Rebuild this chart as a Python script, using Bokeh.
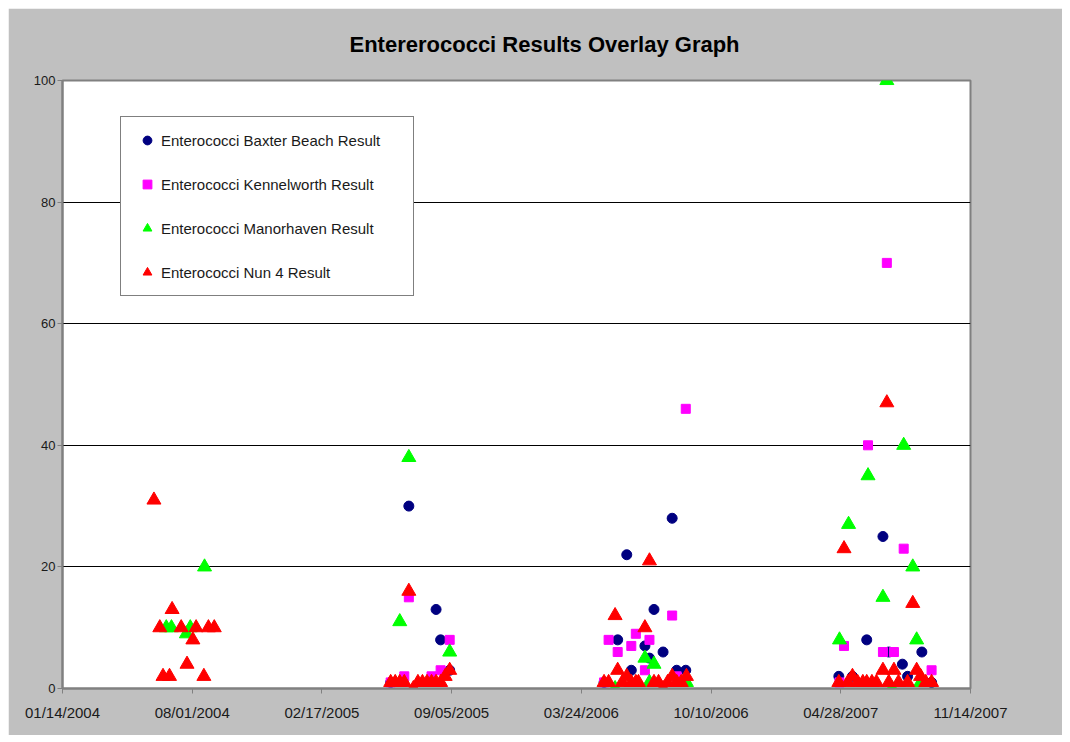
import pandas as pd
from bokeh.plotting import figure
from bokeh.models import (Range1d, FixedTicker, DatetimeTickFormatter, Legend,
                          LegendItem, ColumnDataSource)
from bokeh.embed import file_html
from bokeh.resources import INLINE

# --- axis ticks -------------------------------------------------------------
x_tick_dates = ["2004-01-14", "2004-08-01", "2005-02-17", "2005-09-05",
                "2006-03-24", "2006-10-10", "2007-04-28", "2007-11-14"]
y_tick_values = [0, 20, 40, 60, 80, 100]

# --- Enterococci Baxter Beach ------------------------------------------------
baxter_dates = ["2005-06-03", "2005-07-01", "2005-08-12", "2005-08-19", "2005-09-02",
                "2006-04-28", "2006-05-19", "2006-06-02", "2006-06-09", "2006-06-30",
                "2006-07-07", "2006-07-14", "2006-07-28", "2006-08-11", "2006-08-18",
                "2006-09-01",
                "2007-04-25", "2007-05-16", "2007-06-07", "2007-07-02", "2007-07-11",
                "2007-08-01", "2007-08-09", "2007-08-31", "2007-09-15"]
baxter_values = [1, 30, 13, 8, 3,
                 1, 8, 22, 3, 7, 5, 13, 6, 28, 3, 3,
                 2, 2, 8, 25, 6, 4, 2, 6, 1]

# --- Enterococci Kennelworth -------------------------------------------------
kennel_dates = ["2005-06-03", "2005-06-24", "2005-07-01", "2005-08-05", "2005-08-19",
                "2005-09-02",
                "2006-04-28", "2006-05-05", "2006-05-19", "2006-06-09", "2006-06-16",
                "2006-06-30", "2006-07-07", "2006-08-11", "2006-08-18", "2006-09-01",
                "2007-04-26", "2007-05-03", "2007-06-09", "2007-07-02", "2007-07-08",
                "2007-07-19", "2007-08-03", "2007-09-15"]
kennel_values = [1, 2, 15, 2, 3, 8,
                 1, 8, 6, 7, 9, 3, 8, 12, 2, 46,
                 1, 7, 40, 6, 70, 6, 23, 3]

# --- Enterococci Manorhaven --------------------------------------------------
manor_dates = ["2004-06-22", "2004-06-30", "2004-07-23", "2004-07-29", "2004-08-20",
               "2005-06-17", "2005-07-01", "2005-09-02",
               "2006-05-15", "2006-06-30", "2006-07-07", "2006-07-14", "2006-09-02",
               "2007-04-26", "2007-05-10", "2007-06-09", "2007-07-02", "2007-07-08",
               "2007-07-16", "2007-08-03", "2007-08-17", "2007-08-23", "2007-08-29"]
manor_values = [10, 10, 9, 10, 20,
                11, 38, 6,
                0, 5, 1, 4, 1,
                8, 27, 35, 15, 100, 0, 40, 20, 8, 1]

# --- Enterococci Nun 4 --------------------------------------------------------
nun4_dates = ["2004-06-03", "2004-06-12", "2004-06-17", "2004-06-27", "2004-07-01",
              "2004-07-15", "2004-07-24", "2004-08-02", "2004-08-07", "2004-08-19",
              "2004-08-26", "2004-09-04",
              "2005-06-03", "2005-06-10", "2005-06-17", "2005-06-24", "2005-07-01",
              "2005-07-08", "2005-07-15", "2005-07-22", "2005-07-29", "2005-08-05",
              "2005-08-12", "2005-08-19", "2005-08-26", "2005-09-02",
              "2006-04-28", "2006-05-05", "2006-05-15", "2006-05-19", "2006-05-26",
              "2006-06-02", "2006-06-09", "2006-06-16", "2006-06-20", "2006-06-30",
              "2006-07-07", "2006-07-14", "2006-07-21", "2006-07-28", "2006-08-04",
              "2006-08-11", "2006-08-18", "2006-08-25", "2006-09-02",
              "2007-04-25", "2007-05-03", "2007-05-09", "2007-05-16", "2007-05-24",
              "2007-06-01", "2007-06-07", "2007-06-15", "2007-06-22", "2007-07-02",
              "2007-07-08", "2007-07-11", "2007-07-19", "2007-07-26", "2007-08-09",
              "2007-08-17", "2007-08-23", "2007-08-29", "2007-09-06", "2007-09-15"]
nun4_values = [31, 10, 2, 2, 13, 10, 4, 8, 10, 2, 10, 10,
               1, 1, 1, 1, 16, 0, 1, 1, 1, 1, 1, 1, 2, 3,
               1, 1, 12, 3, 1, 2, 1, 1, 1, 10, 21, 1, 1, 0, 1, 2, 1, 1, 2,
               1, 23, 1, 2, 1, 1, 1, 1, 1, 3, 47, 1, 3, 1, 1, 14, 3, 2, 1, 1]

series = [
    ("Enterococci Baxter Beach Result", baxter_dates, baxter_values, "circle", 10, "#000080"),
    ("Enterococci Kennelworth Result", kennel_dates, kennel_values, "square", 9, "#ff00ff"),
    ("Enterococci Manorhaven Result", manor_dates, manor_values, "triangle", 14, "#00ff00"),
    ("Enterococci Nun 4 Result", nun4_dates, nun4_values, "triangle", 14, "#ff0000"),
]

FONT = "Liberation Sans"

p = figure(width=1054, height=727, margin=(8, 8, 7, 8),
           output_backend="svg", toolbar_location=None,
           x_axis_type="datetime",
           x_range=Range1d(pd.Timestamp(x_tick_dates[0]), pd.Timestamp(x_tick_dates[-1])),
           y_range=Range1d(0, 100),
           min_border_left=54, min_border_right=92,
           min_border_top=72, min_border_bottom=47,
           background_fill_color="white", border_fill_color="#c0c0c0",
           outline_line_color="#808080", outline_line_width=2)

p.title.text = "Entererococci Results Overlay Graph"
p.title.align = "left"
p.title.vertical_align = "middle"
p.title.text_font = FONT
p.title.text_font_size = "22px"
p.title.text_font_style = "bold"
p.title.text_color = "black"
p.title.offset = 287
p.title.standoff = 45

# x axis: fixed date ticks every 200 days
xa = p.xaxis[0]
xa.ticker = FixedTicker(ticks=[pd.Timestamp(d).value // 10**6 for d in x_tick_dates])
fmt = "%m/%d/%Y"
xa.formatter = DatetimeTickFormatter(milliseconds=fmt, seconds=fmt, minsec=fmt,
                                     minutes=fmt, hourmin=fmt, hours=fmt,
                                     days=fmt, months=fmt, years=fmt)
ya = p.yaxis[0]
ya.ticker = FixedTicker(ticks=y_tick_values)

for ax in (xa, ya):
    ax.axis_line_color = "#808080"
    ax.axis_line_width = 2
    ax.major_tick_line_color = "#808080"
    ax.major_tick_in = 0
    ax.major_tick_out = 5
    ax.minor_tick_line_color = None
    ax.major_label_text_font = FONT
    ax.major_label_text_color = "#1a1a1a"
xa.major_label_text_font_size = "15px"
xa.major_label_standoff = 10
ya.major_label_text_font_size = "13px"
ya.major_label_standoff = 2

p.xgrid.grid_line_color = None
p.ygrid.ticker = FixedTicker(ticks=[20, 40, 60, 80])
p.ygrid.grid_line_color = "black"
p.ygrid.grid_line_width = 1

items = []
for label, dates, values, marker, size, color in series:
    src = ColumnDataSource(dict(date=pd.to_datetime(dates), value=values))
    r = p.scatter(x="date", y="value", source=src, marker=marker, size=size,
                  fill_color=color, line_color=color)
    items.append(LegendItem(label=label, renderers=[r]))

legend = Legend(items=items, location=(58, 392), orientation="vertical",
                background_fill_color="white", background_fill_alpha=1,
                border_line_color="black", border_line_width=1,
                padding=12, spacing=22, margin=0,
                glyph_width=28, glyph_height=22, label_height=22,
                label_standoff=0, label_width=240,
                label_text_font=FONT, label_text_font_size="15px",
                label_text_color="#1a1a1a")
p.add_layout(legend, "center")

open("out.html", "w").write(file_html(p, INLINE))
